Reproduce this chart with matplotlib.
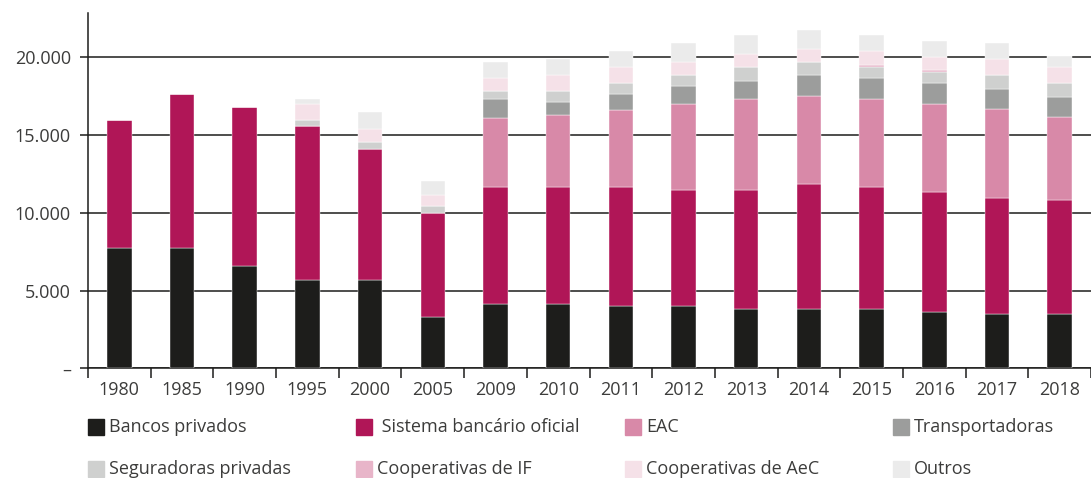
import matplotlib
matplotlib.use("Agg")
import matplotlib.pyplot as plt
import numpy as np
from matplotlib.patches import Rectangle
from matplotlib.ticker import FuncFormatter, FixedLocator

plt.rcParams["font.family"] = ["Open Sans", "DejaVu Sans"]

years = ["1980", "1985", "1990", "1995", "2000", "2005", "2009", "2010",
         "2011", "2012", "2013", "2014", "2015", "2016", "2017", "2018"]

bancos_privados = [7750, 7750, 6560, 5700, 5700, 3300, 4150, 4150,
                   3990, 3990, 3810, 3810, 3810, 3640, 3470, 3470]
sistema_oficial = [8210, 9880, 10260, 9900, 8380, 6670, 7500, 7500,
                   7670, 7500, 7670, 8060, 7850, 7700, 7500, 7350]
eac = [0, 0, 0, 0, 0, 0, 4460, 4630,
       4970, 5490, 5810, 5620, 5640, 5640, 5680, 5320]
transportadoras = [0, 0, 0, 0, 0, 0, 1200, 840,
                   1010, 1180, 1200, 1370, 1370, 1370, 1330, 1320]
seguradoras = [0, 0, 0, 370, 490, 490, 510, 710,
               710, 710, 880, 860, 710, 690, 880, 880]
coop_if = [0, 0, 0, 0, 0, 0, 0, 0,
           0, 0, 0, 0, 150, 150, 0, 0]
coop_aec = [0, 0, 0, 1010, 820, 710, 840, 1030,
            1010, 840, 860, 840, 860, 860, 1030, 1030]
outros = [0, 0, 0, 340, 1090, 880, 1030, 1030,
          1050, 1200, 1200, 1200, 1050, 1030, 1010, 690]

series = [
    ("Bancos privados", bancos_privados, "#1d1d1b"),
    (" Sistema bancário oficial", sistema_oficial, "#b01657"),
    ("EAC", eac, "#d889a8"),
    ("Transportadoras", transportadoras, "#9c9d9c"),
    ("Seguradoras privadas", seguradoras, "#cfd0cf"),
    ("Cooperativas de IF", coop_if, "#e8b5c9"),
    ("Cooperativas de AeC", coop_aec, "#f5e1e8"),
    ("Outros", outros, "#ebebeb"),
]

text_color = "#3c3c3b"
line_color = "#1d1d1b"

fig = plt.figure(figsize=(10.91, 4.78), dpi=100)
W, H = 1091, 478
ax = fig.add_axes([88 / W, (H - 368.3) / H, 1003 / W, (368.3 - 13) / H])

x = np.arange(len(years))
bottom = np.zeros(len(years))
for name, vals, color in series:
    vals = np.array(vals, dtype=float)
    ax.bar(x, vals, width=0.39, bottom=bottom, color=color,
           edgecolor="white", linewidth=0.3, zorder=3)
    bottom += vals

ax.set_xlim(-0.5, -0.5 + 1003 / 63.33)
ax.set_ylim(0, 22850)

ax.yaxis.set_major_locator(FixedLocator([0, 5000, 10000, 15000, 20000]))
ax.yaxis.set_major_formatter(FuncFormatter(
    lambda v, p: "–" if v == 0 else f"{int(v):,}".replace(",", ".")))
ax.grid(axis="y", color=line_color, linewidth=1.1, zorder=1)
ax.tick_params(axis="y", length=5.8, width=1.1, color=line_color,
               labelsize=13, labelcolor=text_color, pad=6.5)

ax.set_xticks(x)
ax.set_xticklabels(years)
ax.set_xticks(np.arange(-0.5, len(years), 1.0), minor=True)
ax.tick_params(axis="x", which="major", length=0, labelsize=13,
               labelcolor=text_color, pad=9)
ax.tick_params(axis="x", which="minor", length=7.2, width=1.1,
               color=line_color)

for side in ["top", "right"]:
    ax.spines[side].set_visible(False)
for side in ["left", "bottom"]:
    ax.spines[side].set_color(line_color)
    ax.spines[side].set_linewidth(1.1)

# legend drawn by hand: 4 columns, 2 rows
col_x = [88, 356, 625, 893]
row_y = [427, 469]
for i, (name, vals, color) in enumerate(series):
    cx = col_x[i % 4]
    cy = row_y[i // 4]
    fig.add_artist(Rectangle((cx / W, (H - cy - 8) / H), 16 / W, 16 / H,
                             transform=fig.transFigure, color=color))
    fig.text((cx + 21) / W, (H - cy) / H, name, fontsize=13,
             color=text_color, va="center", ha="left")

fig.savefig("out.png", dpi=100)
